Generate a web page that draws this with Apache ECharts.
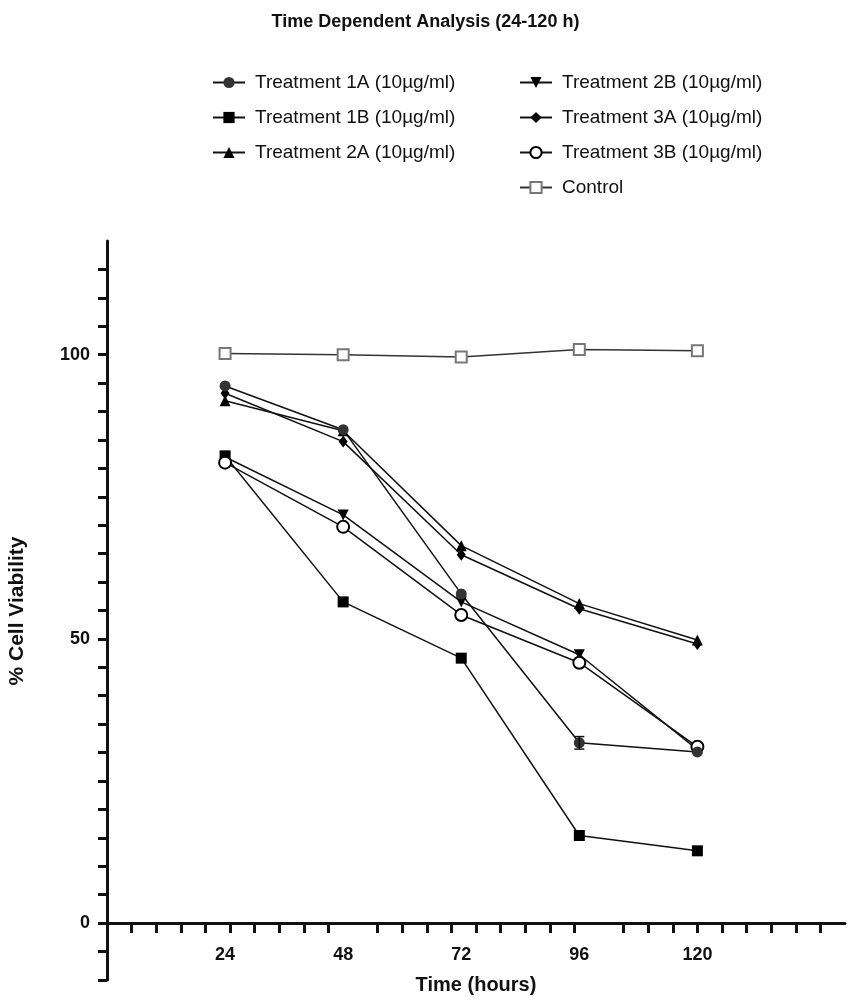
<!DOCTYPE html>
<html>
<head>
<meta charset="utf-8">
<script src="https://cdn.jsdelivr.net/npm/echarts@6.0.0/dist/echarts.min.js"></script>
<style>
  html, body { margin: 0; padding: 0; background: #fff; }
  #chart { width: 851px; height: 1007px; }
</style>
</head>
<body>
<div id="chart"></div>
<script>
const hours = [24, 48, 72, 96, 120];
const xLabelValues = [24, 48, 72, 96, 120];
const yLabelValues = [0, 50, 100];

const names = [
  'Treatment 1A (10µg/ml)',
  'Treatment 1B (10µg/ml)',
  'Treatment 2A (10µg/ml)',
  'Treatment 2B (10µg/ml)',
  'Treatment 3A (10µg/ml)',
  'Treatment 3B (10µg/ml)',
  'Control',
];

const t1a = [94.5, 86.8, 57.9, 31.7, 30.1];
const t1b = [82.2, 56.5, 46.6, 15.4, 12.7];
const t2a = [91.9, 86.6, 66.4, 56.2, 49.8];
const t2b = [82.0, 71.8, 56.5, 47.2, 30.5];
const t3a = [93.2, 84.7, 64.8, 55.3, 49.1];
const t3b = [81.0, 69.7, 54.2, 45.8, 31.0];
const control = [100.2, 100.0, 99.6, 100.9, 100.7];

// only the 96 h point of 1A shows a visible error bar
const t1aErr = [0, 0, 0, 1.1, 0];

const font = '"Liberation Sans", Arial, sans-serif';

// ticks every 5 h, none on the 50 h steps
const xTicks = [];
for (let h = 5; h < 150; h += 5) {
  if (h % 50 !== 0) xTicks.push(h);
}
// y ticks every 5, no tick at the top end
const yTicks = [];
for (let v = 0; v < 120; v += 5) yTicks.push(v);

function pairs(values) {
  return hours.map((h, i) => [h, values[i]]);
}

function lineSeries(name, values, symbol, symbolSize, itemStyle, lineColor = '#111') {
  return {
    name,
    type: 'line',
    data: pairs(values),
    symbol,
    symbolSize,
    itemStyle,
    lineStyle: { color: lineColor, width: 1.5 },
    emphasis: { disabled: true },
    z: 3,
  };
}

const errData = hours
  .map((h, i) => [h, t1a[i] - t1aErr[i], t1a[i] + t1aErr[i], t1aErr[i]])
  .filter((d) => d[3] > 0);

const axisLine = { color: '#111', width: 3 };
const legendText = { fontFamily: font, fontSize: 19, color: '#111', padding: [0, 0, 0, 5] };

const chart = echarts.init(document.getElementById('chart'));

chart.setOption({
  animation: false,
  backgroundColor: '#fff',
  title: {
    text: 'Time Dependent Analysis (24-120 h)',
    left: 'center',
    top: 8,
    textStyle: { fontFamily: font, fontSize: 18, fontWeight: 'bold', color: '#111' },
  },
  legend: [
    {
      data: names.slice(0, 3),
      orient: 'vertical',
      left: 207,
      top: 68,
      itemGap: 16,
      itemWidth: 32,
      itemHeight: 14,
      textStyle: legendText,
      selectedMode: false,
    },
    {
      data: names.slice(3),
      orient: 'vertical',
      left: 514,
      top: 68,
      itemGap: 16,
      itemWidth: 32,
      itemHeight: 14,
      textStyle: legendText,
      selectedMode: false,
    },
  ],
  grid: [
    { left: 107, right: 6, top: 241, bottom: 84, outerBoundsMode: 'none' },
    // strip below zero: the y axis runs on to -10
    { left: 107, right: 6, top: 923, bottom: 27, outerBoundsMode: 'none' },
  ],
  xAxis: [
    {
      type: 'value',
      gridIndex: 0,
      min: 0,
      max: 150,
      name: 'Time (hours)',
      nameLocation: 'middle',
      nameGap: 52,
      nameTextStyle: { fontFamily: font, fontSize: 20, fontWeight: 'bold', color: '#111' },
      axisLine: { onZero: false, lineStyle: axisLine },
      axisTick: { show: true, customValues: xTicks, length: 10, lineStyle: axisLine },
      axisLabel: {
        customValues: xLabelValues,
        margin: 23,
        fontFamily: font,
        fontSize: 18,
        fontWeight: 'bold',
        color: '#111',
      },
      splitLine: { show: false },
    },
    { type: 'value', gridIndex: 1, min: 0, max: 150, show: false },
  ],
  yAxis: [
    {
      type: 'value',
      gridIndex: 0,
      min: 0,
      max: 120,
      interval: 5,
      name: '% Cell Viability',
      nameLocation: 'middle',
      nameGap: 79,
      nameTextStyle: {
        fontFamily: font,
        fontSize: 21,
        fontWeight: 'bold',
        color: '#111',
        padding: [0, 58, 0, 0],
      },
      axisLine: { show: true, lineStyle: axisLine },
      axisTick: { show: true, customValues: yTicks, length: 9, lineStyle: axisLine },
      axisLabel: {
        customValues: yLabelValues,
        margin: 17,
        fontFamily: font,
        fontSize: 18,
        fontWeight: 'bold',
        color: '#111',
      },
      splitLine: { show: false },
    },
    {
      type: 'value',
      gridIndex: 1,
      min: -10,
      max: 0,
      interval: 5,
      axisLine: { show: true, lineStyle: axisLine },
      axisTick: { show: true, length: 9, lineStyle: axisLine },
      axisLabel: { show: false },
      splitLine: { show: false },
    },
  ],
  series: [
    lineSeries(names[6], control, 'emptyRect', 11, { color: '#777', borderWidth: 2 }, '#333'),
    lineSeries(names[1], t1b, 'rect', 11, { color: '#000' }),
    lineSeries(names[3], t2b, 'path://M0,0L10,0L5,9Z', 11, { color: '#000' }),
    lineSeries(names[5], t3b, 'emptyCircle', 12, { color: '#000', borderWidth: 2.5 }),
    lineSeries(names[2], t2a, 'triangle', 11, { color: '#000' }),
    lineSeries(names[4], t3a, 'diamond', [9, 12], { color: '#000' }),
    lineSeries(names[0], t1a, 'circle', 11, { color: '#333' }),
    {
      type: 'custom',
      name: 'err1A',
      data: errData,
      z: 4,
      renderItem: (params, api) => {
        const low = api.coord([api.value(0), api.value(1)]);
        const high = api.coord([api.value(0), api.value(2)]);
        const w = 5;
        const style = { stroke: '#111', lineWidth: 1.5 };
        return {
          type: 'group',
          children: [
            { type: 'line', shape: { x1: low[0], y1: low[1], x2: high[0], y2: high[1] }, style },
            { type: 'line', shape: { x1: low[0] - w, y1: low[1], x2: low[0] + w, y2: low[1] }, style },
            { type: 'line', shape: { x1: high[0] - w, y1: high[1], x2: high[0] + w, y2: high[1] }, style },
          ],
        };
      },
    },
  ],
});
</script>
</body>
</html>
